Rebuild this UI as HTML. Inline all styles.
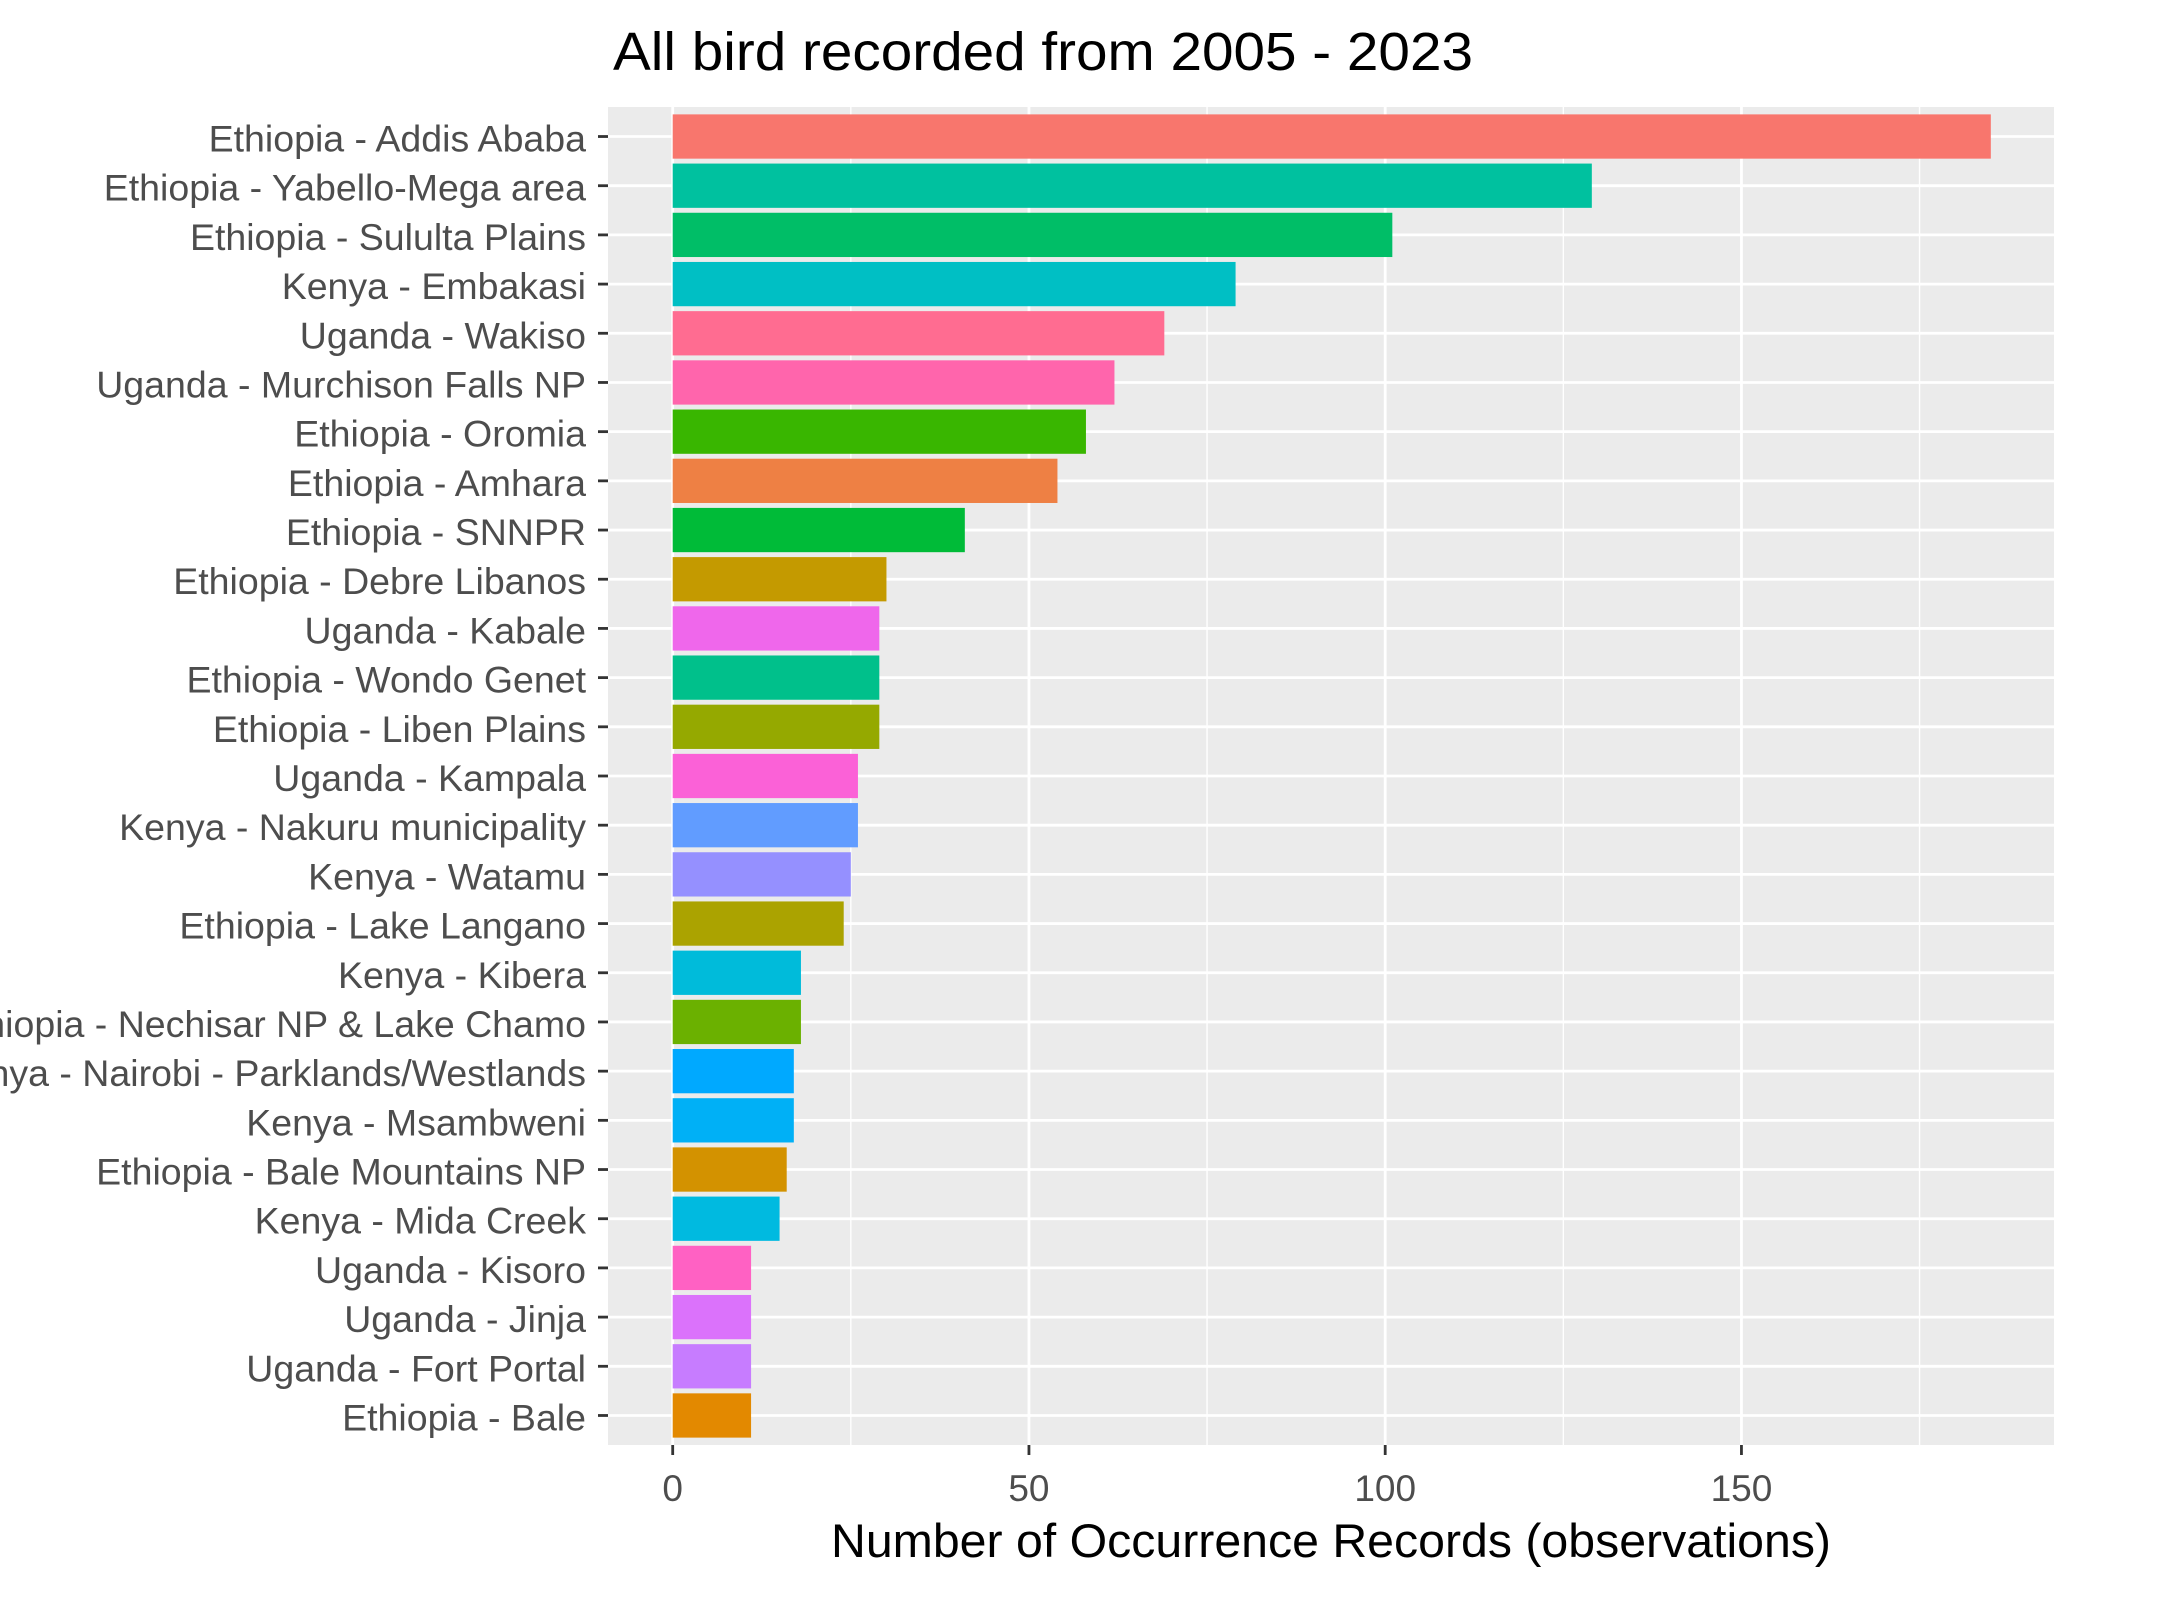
<!DOCTYPE html>
<html><head><meta charset="utf-8"><style>
html,body{margin:0;padding:0;background:#fff;}
svg{display:block;font-family:"Liberation Sans",Arial,sans-serif;}
</style></head><body>
<svg id="chart" width="2180" height="1616" viewBox="0 0 2180 1616">
<rect width="2180" height="1616" fill="#ffffff"/>
<text x="613" y="70" font-size="54" fill="#000" textLength="860" lengthAdjust="spacingAndGlyphs">All bird recorded from 2005 - 2023</text>
<rect x="608" y="107" width="1446" height="1338" fill="#EBEBEB"/>
<g id="grid"></g><g id="bars"></g><g id="yaxis"></g><g id="xaxis"></g>
<text x="1331" y="1557" font-size="47" text-anchor="middle" fill="#000" textLength="1000" lengthAdjust="spacingAndGlyphs">Number of Occurrence Records (observations)</text>
</svg>
<script>
const categories = ["Ethiopia - Addis Ababa","Ethiopia - Yabello-Mega area","Ethiopia - Sululta Plains","Kenya - Embakasi","Uganda - Wakiso","Uganda - Murchison Falls NP","Ethiopia - Oromia","Ethiopia - Amhara","Ethiopia - SNNPR","Ethiopia - Debre Libanos","Uganda - Kabale","Ethiopia - Wondo Genet","Ethiopia - Liben Plains","Uganda - Kampala","Kenya - Nakuru municipality","Kenya - Watamu","Ethiopia - Lake Langano","Kenya - Kibera","Ethiopia - Nechisar NP & Lake Chamo","Kenya - Nairobi - Parklands/Westlands","Kenya - Msambweni","Ethiopia - Bale Mountains NP","Kenya - Mida Creek","Uganda - Kisoro","Uganda - Jinja","Uganda - Fort Portal","Ethiopia - Bale"];
const values = [185,129,101,79,69,62,58,54,41,30,29,29,29,26,26,25,24,18,18,17,17,16,15,11,11,11,11];
const colors = ["#F8766D","#00C19F","#00BE67","#00BFC4","#FF6C91","#FF65AC","#39B600","#EE8044","#00BB38","#C49A00","#EF67EB","#00C08B","#95A900","#FB61D7","#619CFF","#9590FF","#ABA300","#00BBDA","#6BB100","#00A9FF","#00B0F6","#D39200","#00BAE0","#FF61C3","#DB72FB","#C77CFF","#E38900"];
const xTicks = [0,50,100,150];
const xMinor = [25,75,125,175];

const NS="http://www.w3.org/2000/svg";
const X0=672.7, PXU=7.125, PT=107, PB=1445, PL=608, PR=2054;
const n=categories.length;
const step=(PB-PT)/(n-1+1.2);
function xs(v){return X0+v*PXU;}
function ys(i){return PT+0.6*step+i*step;}
function mk(tag,attrs,parent){const e=document.createElementNS(NS,tag);for(const k in attrs)e.setAttribute(k,attrs[k]);parent.appendChild(e);return e;}
const grid=document.getElementById('grid'),bars=document.getElementById('bars'),ya=document.getElementById('yaxis'),xa=document.getElementById('xaxis');
xMinor.forEach(v=>{
  const l=mk('line',{x1:xs(v),x2:xs(v),y1:PT,y2:PB,stroke:'#fff','stroke-width':1.4},grid);
  
  
});
xTicks.forEach(v=>{
  const l=mk('line',{x1:xs(v),x2:xs(v),y1:PT,y2:PB,stroke:'#fff','stroke-width':2.8},grid);
  
  
  const t=mk('line',{x1:xs(v),x2:xs(v),y1:PB,y2:PB+10,stroke:'#333','stroke-width':2.8},xa);
  
  
  const tx=mk('text',{x:xs(v),y:1501,'font-size':37,'text-anchor':'middle',fill:'#4D4D4D'},xa);
  tx.textContent=v;
  
  
});
categories.forEach((c,i)=>{
  const y=ys(i);
  const g=mk('line',{x1:PL,x2:PR,y1:y,y2:y,stroke:'#fff','stroke-width':2.8},grid);
  
  
  const bw=step*0.9;
  const b=mk('rect',{x:xs(0),y:y-bw/2,width:xs(values[i])-xs(0),height:bw,fill:colors[i]},bars);
  
  
  const t=mk('line',{x1:PL-10,x2:PL,y1:y,y2:y,stroke:'#333','stroke-width':2.8},ya);
  
  
  const tx=mk('text',{x:586,y:y+15,'font-size':37.5,'text-anchor':'end',fill:'#4D4D4D'},ya);
  tx.textContent=c;
  
  
});
</script>
</body></html>
